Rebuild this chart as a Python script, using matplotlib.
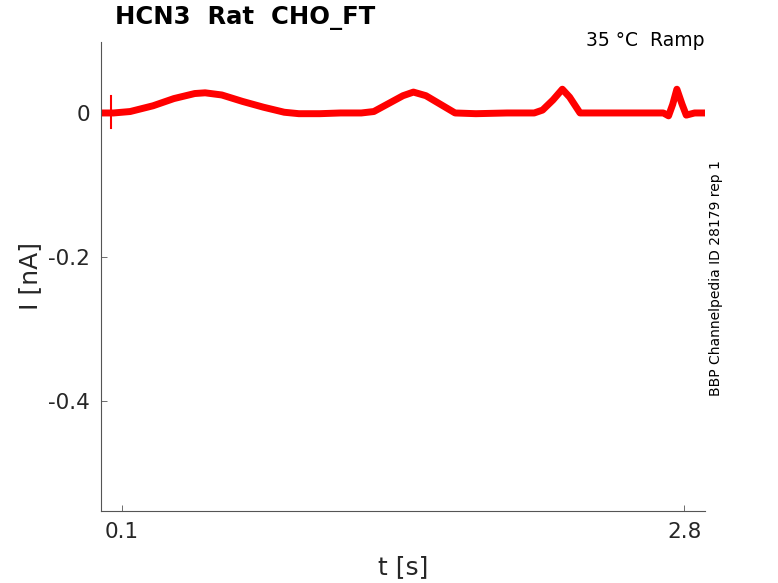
import matplotlib
matplotlib.use("Agg")
import matplotlib.pyplot as plt

# envelope centre of the recorded trace (t in s, I in nA)
t_pts = [0.0, 0.06, 0.14, 0.25, 0.35, 0.45, 0.5, 0.58, 0.68, 0.78,
         0.88, 0.95, 1.05, 1.15, 1.25, 1.31, 1.38, 1.45, 1.50, 1.56, 1.63, 1.70, 1.80,
         1.95, 2.08, 2.12, 2.17, 2.215, 2.25, 2.30, 2.40, 2.55, 2.70, 2.725, 2.745,
         2.765, 2.79, 2.81, 2.85, 2.9]
i_pts = [0.0, 0.0, 0.002, 0.01, 0.02, 0.027, 0.028, 0.025, 0.016, 0.008,
         0.001, -0.001, -0.001, 0.0, 0.0, 0.002, 0.013, 0.024, 0.029, 0.024, 0.012, 0.0, -0.001,
         0.0, 0.0, 0.004, 0.018, 0.033, 0.022, 0.0, 0.0, 0.0, 0.0, -0.004, 0.012,
         0.033, 0.012, -0.003, 0.0, 0.0]

# brief artefact near the start
spike_t = [0.048, 0.048]
spike_i = [0.024, -0.021]

x_ticks = [0.1, 2.8]
x_ticklabels = ["0.1", "2.8"]
y_ticks = [0.0, -0.2, -0.4]
y_ticklabels = ["0", "-0.2", "-0.4"]

fig = plt.figure(figsize=(7.78, 5.83), dpi=100)
ax = fig.add_axes([101/778, 1 - 511/583, (705-101)/778, (511-42)/583])

ax.plot(t_pts, i_pts, color="#ff0000", lw=5.0, solid_joinstyle="round", solid_capstyle="butt")
ax.plot(spike_t, spike_i, color="#ff0000", lw=1.5)
ax.plot([0.0, 0.06], [0.0, 0.0], color="#ff0000", lw=1.0)

ax.set_xlim(0.0, 2.9)
ax.set_ylim(-0.553, 0.0986)
ax.set_xticks(x_ticks)
ax.set_xticklabels(x_ticklabels)
ax.set_yticks(y_ticks)
ax.set_yticklabels(y_ticklabels)
for s in ["top", "right"]:
    ax.spines[s].set_visible(False)
for s in ["left", "bottom"]:
    ax.spines[s].set_color("#555555")
    ax.spines[s].set_linewidth(0.8)
ax.tick_params(axis="both", labelsize=15.5, colors="#262626", length=4, width=0.6, direction="in", pad=8)
ax.tick_params(axis="both", color="#555555")

ax.set_xlabel("t [s]", fontsize=18, color="#262626", labelpad=9)
ax.set_ylabel("I [nA]", fontsize=18, color="#262626", labelpad=4)

fig.text(115/778, 1 - 18/583, "HCN3  Rat  CHO_FT", fontsize=17.5, fontweight="bold",
         ha="left", va="center", color="black")
fig.text(704/778, 1 - 41/583, "35 °C  Ramp", fontsize=13.5, ha="right", va="center", color="black")
fig.text(716/778, 1 - 278/583, "BBP Channelpedia ID 28179 rep 1", fontsize=10, rotation=90,
         ha="center", va="center", color="black")

fig.savefig("out.png", dpi=100)
